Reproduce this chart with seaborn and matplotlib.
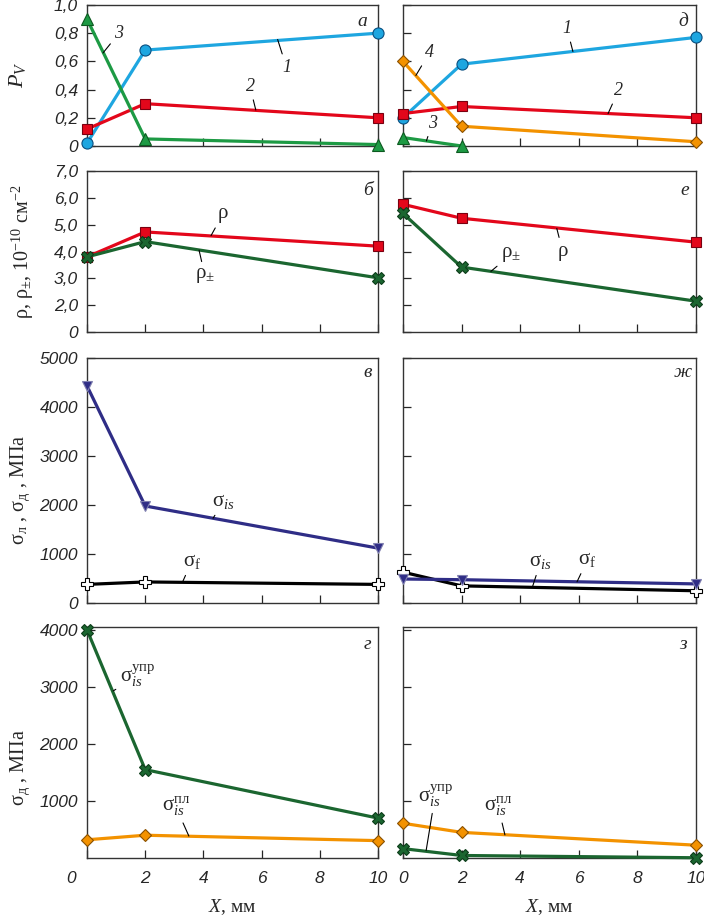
import matplotlib
matplotlib.use("Agg")
import matplotlib.pyplot as plt
import seaborn as sns

# x positions (mm)
X = [0, 2, 10]
X2 = [0, 2]

# panel а / д : P_V
pv1_left = [0.02, 0.68, 0.80]
pv2_left = [0.12, 0.30, 0.20]
pv3_left = [0.90, 0.05, 0.01]
pv1_right = [0.20, 0.58, 0.77]
pv2_right = [0.23, 0.28, 0.20]
pv3_right = [0.06, 0.00]
pv4_right = [0.60, 0.14, 0.03]

# panel б / е : dislocation density
rho_left = [3.80, 4.73, 4.20]
rho_pm_left = [3.80, 4.37, 3.02]
rho_right = [5.76, 5.24, 4.35]
rho_pm_right = [5.42, 3.42, 2.15]

# panel в / ж : stresses
sig_is_left = [4430, 1980, 1120]
sig_f_left = [380, 430, 380]
sig_is_right = [490, 476, 390]
sig_f_right = [630, 350, 250]

# panel г / з
sig_upr_left = [4000, 1550, 700]
sig_pl_left = [320, 400, 305]
sig_upr_right = [165, 45, 5]
sig_pl_right = [610, 450, 225]

pv_ticks = [0, 0.2, 0.4, 0.6, 0.8, 1.0]
pv_labels = ["0", "0,2", "0,4", "0,6", "0,8", "1,0"]
rho_ticks = [1, 2, 3, 4, 5, 6, 7]
rho_labels = ["0", "2,0", "3,0", "4,0", "5,0", "6,0", "7,0"]
s1_ticks = [0, 1000, 2000, 3000, 4000, 5000]
s2_ticks = [1000, 2000, 3000, 4000]
x_ticks = [0, 2, 4, 6, 8, 10]

BLUE = "#1ea6e0"
RED = "#e3071b"
GREEN = "#1d9a44"
DGREEN = "#1b6630"
ORANGE = "#f39200"
NAVY = "#2f2d86"

sns.set_style("ticks")
plt.rcParams["font.family"] = ["Liberation Serif", "DejaVu Serif"]
plt.rcParams["mathtext.fontset"] = "custom"
plt.rcParams["mathtext.rm"] = "Liberation Serif"
plt.rcParams["mathtext.it"] = "Liberation Serif:italic"
plt.rcParams["mathtext.bf"] = "Liberation Serif:bold"

fig = plt.figure(figsize=(7.04, 9.17), dpi=100)
rows = [(0.8408, 0.1538), (0.6379, 0.1756), (0.3424, 0.2672), (0.0643, 0.2519)]
cols = [(0.1236, 0.4134), (0.5724, 0.4162)]
axes = [[fig.add_axes([c[0], r[0], c[1], r[1]]) for c in cols] for r in rows]

LW = 2.3


def line(ax, x, y, color, marker, ms, mec, mfc=None, mew=0.8):
    sns.lineplot(x=x, y=y, ax=ax, color=color, linewidth=LW, marker=marker,
                 markersize=ms, markeredgecolor=mec,
                 markerfacecolor=mfc if mfc else color, markeredgewidth=mew,
                 clip_on=False, zorder=3)


def lab(ax, text, xy, xytext, size=13, style="normal"):
    ax.annotate(text, xy=xy, xytext=xytext, ha="center", va="center",
                fontsize=size, style=style,
                arrowprops=dict(arrowstyle="-", color="black", lw=0.8,
                                shrinkA=1, shrinkB=0))


def letter(ax, s, x, y):
    ax.text(x, y, s, transform=ax.transAxes, ha="center", va="center",
            fontsize=14, style="italic")


# row 1
for ax, d in zip(axes[0], [(pv1_left, pv2_left, None), (pv1_right, pv2_right, pv4_right)]):
    line(ax, X, d[0], BLUE, "o", 8, "#0a4f80")
    line(ax, X, d[1], RED, "s", 7, "#7a0010")
    if d[2] is not None:
        line(ax, X, d[2], ORANGE, "D", 6.5, "#8a5000")
line(axes[0][0], X, pv3_left, GREEN, "^", 8, "#0c5a20")
line(axes[0][1], X2, pv3_right, GREEN, "^", 8, "#0c5a20")

# row 2
for ax, a, b in [(axes[1][0], rho_left, rho_pm_left), (axes[1][1], rho_right, rho_pm_right)]:
    line(ax, X, a, RED, "s", 7, "#7a0010")
    line(ax, X, b, DGREEN, "X", 8, "#0d3d1a")

# row 3
for ax, a, b in [(axes[2][0], sig_is_left, sig_f_left), (axes[2][1], sig_is_right, sig_f_right)]:
    line(ax, X, b, "black", "P", 9, "black", mfc="white", mew=0.8)
    line(ax, X, a, NAVY, "v", 7, "#8080b0")

# row 4
for ax, a, b in [(axes[3][0], sig_upr_left, sig_pl_left), (axes[3][1], sig_upr_right, sig_pl_right)]:
    line(ax, X, b, ORANGE, "D", 6.5, "#8a5000")
    line(ax, X, a, DGREEN, "X", 8, "#0d3d1a")

# axes setup
ylims = [(0, 1.0), (1, 7), (0, 5000), (0, 4050)]
yticks = [(pv_ticks, pv_labels), (rho_ticks, rho_labels),
          (s1_ticks, [str(t) for t in s1_ticks]), (s2_ticks, [str(t) for t in s2_ticks])]
for r in range(4):
    for c in range(2):
        ax = axes[r][c]
        ax.set_xlim(0, 10)
        ax.set_ylim(*ylims[r])
        ax.set_xticks(x_ticks)
        ax.set_yticks(yticks[r][0])
        ax.tick_params(direction="in", length=5.5, width=0.9, pad=6.5,
                       labelsize=12.5)
        for s in ax.spines.values():
            s.set_linewidth(1.0)
            s.set_color("#333333")
        ax.set_xlabel("")
        ax.set_ylabel("")
        if c == 0:
            ax.set_yticklabels(yticks[r][1])
        else:
            ax.set_yticklabels([])
        if r == 3:
            lbls = [str(t) for t in x_ticks]
            if c == 0:
                lbls[0] = ""
            ax.set_xticklabels(lbls)
            ax.tick_params(axis="x", pad=9.5)
            ax.set_xlabel("$X$, мм", fontsize=14, labelpad=8)
        else:
            ax.set_xticklabels([])
        for t in ax.get_xticklabels() + ax.get_yticklabels():
            t.set_fontfamily("Liberation Sans")
            t.set_fontstyle("italic")

# shifted "0" on the bottom-left panel
axes[3][0].text(-0.055, -0.055, "0", transform=axes[3][0].transAxes, ha="center",
                va="top", fontsize=12.5, fontfamily="Liberation Sans", style="italic")

# y labels
fig.text(17 / 704, 1 - 75 / 917, "$P_V$", rotation=90, ha="center", va="center", fontsize=16)
fig.text(23 / 704, 1 - 252 / 917, "ρ, ρ$_{\\pm}$, 10$^{-10}$ см$^{-2}$", rotation=90,
         ha="center", va="center", fontsize=14.5)
fig.text(20 / 704, 1 - 490 / 917, "σ$_{\\mathrm{л}}$ , σ$_{\\mathrm{д}}$ , МПа", rotation=90,
         ha="center", va="center", fontsize=14.5)
fig.text(20 / 704, 1 - 768 / 917, "σ$_{\\mathrm{д}}$ , МПа", rotation=90,
         ha="center", va="center", fontsize=14.5)

# panel letters
letter(axes[0][0], "а", 0.945, 0.88)
letter(axes[0][1], "д", 0.956, 0.88)
letter(axes[1][0], "б", 0.966, 0.878)
letter(axes[1][1], "е", 0.962, 0.878)
letter(axes[2][0], "в", 0.966, 0.939)
letter(axes[2][1], "ж", 0.956, 0.939)
letter(axes[3][0], "г", 0.962, 0.926)
letter(axes[3][1], "з", 0.956, 0.926)

# curve labels
a = axes[0][0]
lab(a, "1", (6.55, 0.755), (6.85, 0.56), style="italic")
lab(a, "2", (5.8, 0.255), (5.6, 0.42), style="italic")
lab(a, "3", (0.55, 0.66), (1.1, 0.80), style="italic")
a = axes[0][1]
lab(a, "1", (5.8, 0.67), (5.6, 0.83), style="italic")
lab(a, "2", (7.0, 0.23), (7.35, 0.39), style="italic")
lab(a, "3", (0.8, 0.036), (1.0, 0.16), style="italic")
lab(a, "4", (0.44, 0.50), (0.9, 0.66), style="italic")

a = axes[1][0]
lab(a, "ρ", (4.26, 4.59), (4.67, 5.4), size=15)
lab(a, "ρ$_{\\pm}$", (3.85, 4.05), (4.05, 3.1), size=15)
a = axes[1][1]
lab(a, "ρ", (5.25, 4.86), (5.45, 4.0), size=15)
lab(a, "ρ$_{\\pm}$", (3.0, 3.26), (3.7, 3.9), size=15)

a = axes[2][0]
lab(a, "σ$_{is}$", (4.33, 1730), (4.7, 2075), size=15)
lab(a, "σ$_{\\mathrm{f}}$", (3.28, 425), (3.6, 850), size=15)
a = axes[2][1]
lab(a, "σ$_{is}$", (4.42, 330), (4.7, 850), size=15)
lab(a, "σ$_{\\mathrm{f}}$", (5.94, 433), (6.3, 885), size=15)

a = axes[3][0]
lab(a, "σ$_{is}^{\\mathrm{упр}}$", (0.9, 2930), (1.75, 3200), size=15)
lab(a, "σ$_{is}^{\\mathrm{пл}}$", (3.5, 385), (3.05, 900), size=15)
a = axes[3][1]
lab(a, "σ$_{is}^{\\mathrm{упр}}$", (0.79, 130), (1.1, 1100), size=15)
lab(a, "σ$_{is}^{\\mathrm{пл}}$", (3.48, 406), (3.25, 900), size=15)

fig.savefig("out.png", dpi=100)
